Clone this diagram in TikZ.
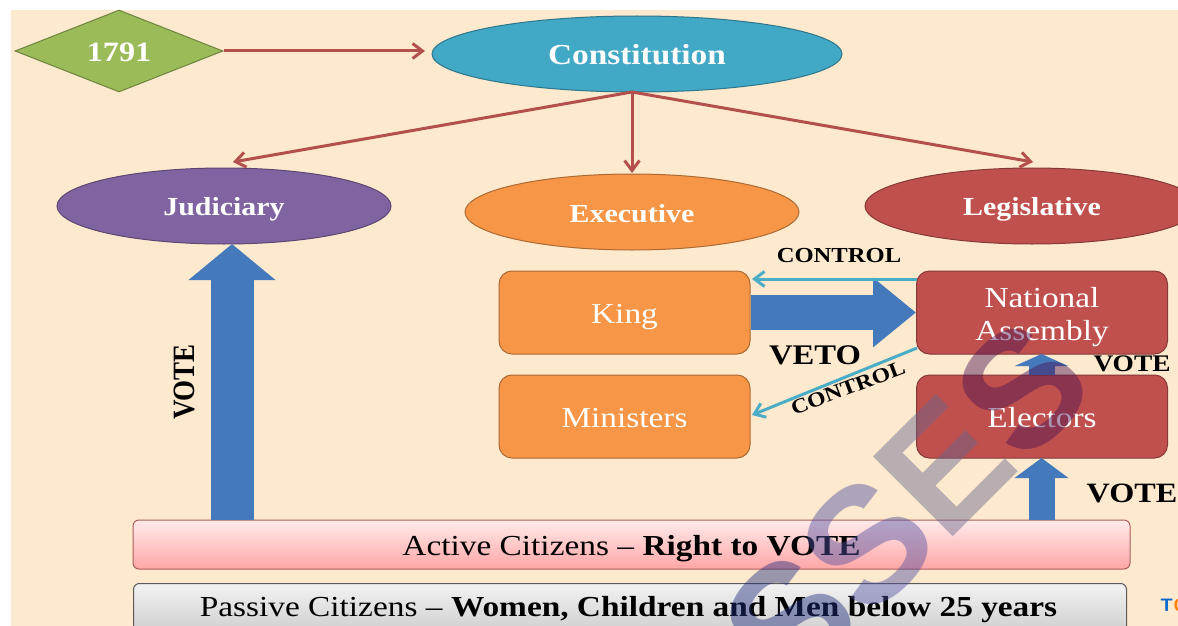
\documentclass[tikz,border=0pt]{standalone}
\usepackage{fontspec}
\setmainfont[FakeStretch=1.15]{Liberation Serif}
\newfontfamily\narrowser[FakeStretch=0.87]{Liberation Serif}
\newfontfamily\wmfont{Liberation Sans}
\usetikzlibrary{shapes.geometric,arrows.meta,calc}
\definecolor{bgc}{HTML}{FDE9CE}
\definecolor{redln}{HTML}{B4504C}
\definecolor{blueA}{HTML}{4479BC}
\definecolor{cyanln}{HTML}{4BACC6}
\definecolor{orangeF}{HTML}{F79646}
\definecolor{redF}{HTML}{C0504D}
\definecolor{greenF}{HTML}{9BBB59}
\definecolor{tealF}{HTML}{41A8C6}
\definecolor{purpF}{HTML}{8064A2}
\definecolor{wmA}{HTML}{491454}
\definecolor{wmB}{HTML}{64668C}
\definecolor{wmC}{HTML}{5050A0}
\definecolor{wmD}{HTML}{203080}
\newcommand{\fsz}[1]{\fontsize{#1}{33}\selectfont}
\tikzset{
  x=1pt,y=-1pt,
  ell/.style={ellipse,draw=#1!70!black,fill=#1,line width=1pt,inner sep=0,minimum width=334,minimum height=76,text=white,font=\fsz{26}\bfseries,text height=18,text depth=0},
  box/.style={rounded corners=13,draw=#1!70!black,fill=#1,line width=1pt,minimum width=251,minimum height=83,inner sep=0,text=white,align=center,font=\fsz{29},text height=24,text depth=0},
  thin arr/.style={-{Straight Barb[length=10,width=15]},draw=redln,line width=3pt},
  cy arr/.style={-{Straight Barb[length=10,width=15]},draw=cyanln,line width=3pt},
  lab/.style={font=\fsz{24}\bfseries,text=black,inner sep=0},
  barbox/.style={rounded corners=6,line width=1pt,inner sep=0,text=black,font=\fsz{29}},
}
\begin{document}
\begin{tikzpicture}
\useasboundingbox (0,0) rectangle (1178,626);
\clip (0,0) rectangle (1178,626);
\fill[white] (0,0) rectangle (1178,626);
\fill[bgc] (11,10) rectangle (1178,626);
\begin{scope}
\clip (11,10) rectangle (1178,626);
\node[diamond,draw=greenF!70!black,fill=greenF,line width=1pt,inner sep=0,minimum width=208,minimum height=82] (yr) at (119,51) {};
\end{scope}
\node[text=white,font=\fsz{28}\bfseries,inner sep=0] (yrt) at (119,52) {1791};
\node[ell=tealF,minimum width=410,font=\fsz{29}\bfseries,text height=22] (con) at (637,54) {Constitution};
\node[ell=purpF] (jud) at (224,206) {Judiciary};
\node[ell=orangeF,text height=20] (exe) at (632,212) {Executive};
\node[ell=redF] (leg) at (1032,206) {Legislative};
\node[box=orangeF,text height=22] (king) at (624.5,312.5) {King};
\node[box=orangeF,text height=22] (min) at (624.5,416.5) {Ministers};
\node[box=redF,text height=55] (na) at (1042,312.5) {National\\Assembly};
\node[box=redF,text height=22] (ele) at (1042,416.5) {Electors};
\node[barbox,draw=redF!70!gray,top color=red!8!white,bottom color=red!35!white,minimum width=997,minimum height=49,text height=22,text depth=0] (act) at (631.5,544.5) {Active Citizens -- \textbf{Right to VOTE}};
\node[barbox,draw=gray!70!black,top color=gray!10!white,bottom color=gray!45!white,minimum width=993,minimum height=62,anchor=north west] (pas) at (133,583) {};
\node[font=\fsz{29},inner sep=0] (past) at (628.5,610) {Passive Citizens -- \textbf{Women, Children and Men below 25 years}};
% arrows
\draw[thin arr] (yr.east) -- (425,51);
\coordinate (cb) at (632,92);
\draw[thin arr] (cb) -- (233,162);
\draw[thin arr] (cb) -- (632,173);
\draw[thin arr] (cb) -- (1033,162);
\coordinate (j0) at (232,520);
\draw[blueA,line width=43,-{Triangle[width=85,length=36]}] (j0) -- (232,244);
\draw[blueA,line width=35,-{Triangle[width=67,length=43]}] (king.east) -- (na.west);
\draw[blueA,line width=26,-{Triangle[width=53,length=12]}] (1041.5,375) -- (1041.5,354);
\draw[blueA,line width=26,-{Triangle[width=53,length=20]}] (1041.5,520) -- (1041.5,458);
\draw[cy arr] (917,279) -- (752,279);
\draw[cy arr] (917,348) -- (752,415);
% labels
\node[lab,font=\fsz{21.4}\bfseries] (c1) at (839,256) {CONTROL};
\node[lab,font=\fsz{28.4}\bfseries] (v1) at (815,355) {VETO};
\node[lab,font=\fsz{20.7}\bfseries,rotate=20.6] (c2) at (848,388) {CONTROL};
\node[lab,font=\fsz{23.8}\bfseries] (v2) at (1132,364) {VOTE};
\node[lab,font=\fsz{28}\bfseries] (v3) at (1132,493) {VOTE};
\node[lab,font=\narrowser\fsz{31}\bfseries,rotate=90] (v4) at (184,382) {VOTE};
\node[inner sep=0,anchor=west,font=\fsz{18}\bfseries\sffamily] (tc) at (1160,605) {\textcolor{blue!50!cyan!80!black}{T}\textcolor{orange}{C}};
% watermark
\begin{scope}
\clip (11,10) rectangle (1178,626);
\node[inner sep=0,rotate=45,opacity=.45,font=\wmfont\fontsize{164}{164}\selectfont\bfseries] (wmk) at (906,505) {\textcolor{wmD}{S}\textcolor{wmC}{S}\textcolor{wmB}{E}\textcolor{wmA}{S}};
\end{scope}
\end{tikzpicture}
\end{document}
